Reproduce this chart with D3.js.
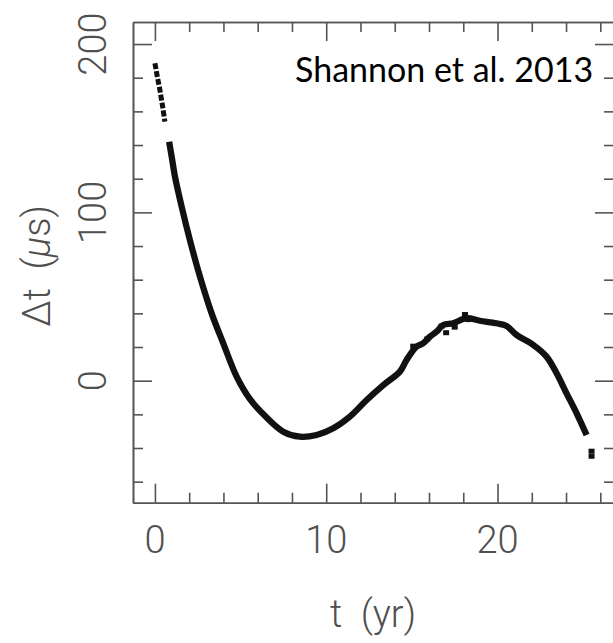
<!DOCTYPE html>
<html>
<head>
<meta charset="utf-8">
<script src="https://cdn.jsdelivr.net/npm/d3@7"></script>
<style>
  body { margin: 0; background: #fff; }
  svg { display: block; }
  .lbl { font-family: Roboto, "Liberation Sans", sans-serif; font-weight: 300; fill: #505050; }
</style>
</head>
<body>
<svg id="chart" width="613" height="643"></svg>
<script>
// timing residuals (t in yr, dt in microseconds); null = gap in the data
var tYears = [0, 0.14, 0.29, 0.45, 0.58, 0.7,
  0.83, 1.01, 1.17, 1.56, 2.04, 2.63, 3.31, 3.99, 4.77, 5.55, 6.42, 7.49, 8.46, 9.44,
  10.41, 11.38, 12.36, 13.33, 14.3, 14.69, 15.27, 15.66, 16.05, 16.44, 16.83, 17.41,
  18.19, 18.97, 19.94, 20.53, 21.11, 22.09, 22.86, 23.45, 24.03, 24.62, 25.2, 25.35];
var dtMicro = [188.6, 180.6, 172.7, 162.8, 153.9, null,
  142, 131.1, 121.2, 103.4, 83.6, 61.8, 40, 22.2, 2.4, -11, -20.9, -30.3, -33.3, -32.3,
  -28.3, -21.4, -11.5, -2.6, 5.4, 12.3, 20.2, 22.2, 26.1, 29.1, 33.1, 34.1,
  37.1, 35.6, 34.1, 32.5, 27.2, 21.2, 14.3, 4.4, -7.5, -19.4, -32.3, null];
// lumpy points around the maximum and the last two isolated points
var blobT = [15.08, 15.9, 16.73, 17.0, 17.5, 18.1, 18.3, 25.49, 25.49];
var blobV = [20.2, 24.5, 32.1, 28.2, 31.5, 39, 36, -42.2, -45.2];

var xMajor = [0, 10, 20];
var xMinor = [2, 4, 6, 8, 12, 14, 16, 18, 22, 24, 26];
var yMajor = [0, 100, 200];
var yMinor = [-60, -40, -20, 20, 40, 60, 80, 120, 140, 160, 180];

var svg = d3.select('#chart');
var pLeft = 133, pRight = 614, pTop = 22, pBottom = 502.7;

var x = d3.scaleLinear().domain([-1.28, 26.8]).range([pLeft, pRight]);
var y = d3.scaleLinear().domain([-72.5, 213.1]).range([pBottom, pTop]);

function styleAxis(g) {
  g.selectAll('text').remove();
  g.selectAll('path, line').attr('stroke', '#555').attr('stroke-width', 1.6);
}

// frame with inward ticks on all four sides
[[d3.axisBottom, x, 'translate(0,' + pBottom + ')'],
 [d3.axisTop, x, 'translate(0,' + pTop + ')'],
 [d3.axisLeft, y, 'translate(' + pLeft + ',0)'],
 [d3.axisRight, y, 'translate(' + pRight + ',0)']].forEach(function (a) {
  var major = a[1] === x ? xMajor : yMajor;
  var minor = a[1] === x ? xMinor : yMinor;
  svg.append('g').attr('transform', a[2])
    .call(a[0](a[1]).tickValues(major).tickSize(-19).tickSizeOuter(0))
    .call(styleAxis);
  svg.append('g').attr('transform', a[2])
    .call(a[0](a[1]).tickValues(minor).tickSize(-10).tickSizeOuter(0))
    .call(styleAxis);
});

// tick labels
svg.selectAll('.xt').data(xMajor).enter().append('text')
  .attr('class', 'lbl').attr('x', d => x(d)).attr('y', 553)
  .attr('text-anchor', 'middle').attr('font-size', 38)
  .text(d => d);

svg.selectAll('.yt').data(yMajor).enter().append('text')
  .attr('class', 'lbl')
  .attr('transform', d => 'translate(106,' + y(d) + ') rotate(-90)')
  .attr('text-anchor', 'middle').attr('font-size', 38)
  .text(d => d);

// axis titles
var xt = svg.append('text').attr('class', 'lbl')
  .attr('x', 373).attr('y', 627).attr('text-anchor', 'middle').attr('font-size', 38)
  .attr('xml:space', 'preserve');
xt.append('tspan').text('t  (yr)');

var yt = svg.append('text').attr('class', 'lbl')
  .attr('transform', 'translate(50,266) rotate(-90)')
  .attr('text-anchor', 'middle').attr('font-size', 38)
  .attr('xml:space', 'preserve');
yt.append('tspan').text('\u0394t  (');
yt.append('tspan').attr('font-style', 'italic').text('\u03bc');
yt.append('tspan').text('s)');

// data
var pts = tYears.map((t, i) => ({t: t, v: dtMicro[i]}));
var line = d3.line()
  .defined(d => d.v != null)
  .x(d => x(d.t)).y(d => y(d.v))
  .curve(d3.curveCatmullRom);

svg.append('path').datum(pts.slice(0, 6))
  .attr('d', line).attr('fill', 'none').attr('stroke', '#111')
  .attr('stroke-width', 5).attr('stroke-dasharray', '6 2');
svg.append('path').datum(pts.slice(6))
  .attr('d', line).attr('fill', 'none').attr('stroke', '#111')
  .attr('stroke-width', 6.3).attr('stroke-linecap', 'butt');

var blobs = blobT.map((t, i) => ({t: t, v: blobV[i]}));
svg.selectAll('.blob').data(blobs).enter().append('rect')
  .attr('x', d => x(d.t) - 3).attr('y', d => y(d.v) - 3)
  .attr('width', 6).attr('height', 5).attr('fill', '#111');

// annotation
svg.append('text')
  .attr('x', 295).attr('y', 82)
  .attr('font-family', 'Lato, "Open Sans", sans-serif')
  .attr('font-size', 34).attr('fill', '#000')
  .text('Shannon et al. 2013');
</script>
</body>
</html>
